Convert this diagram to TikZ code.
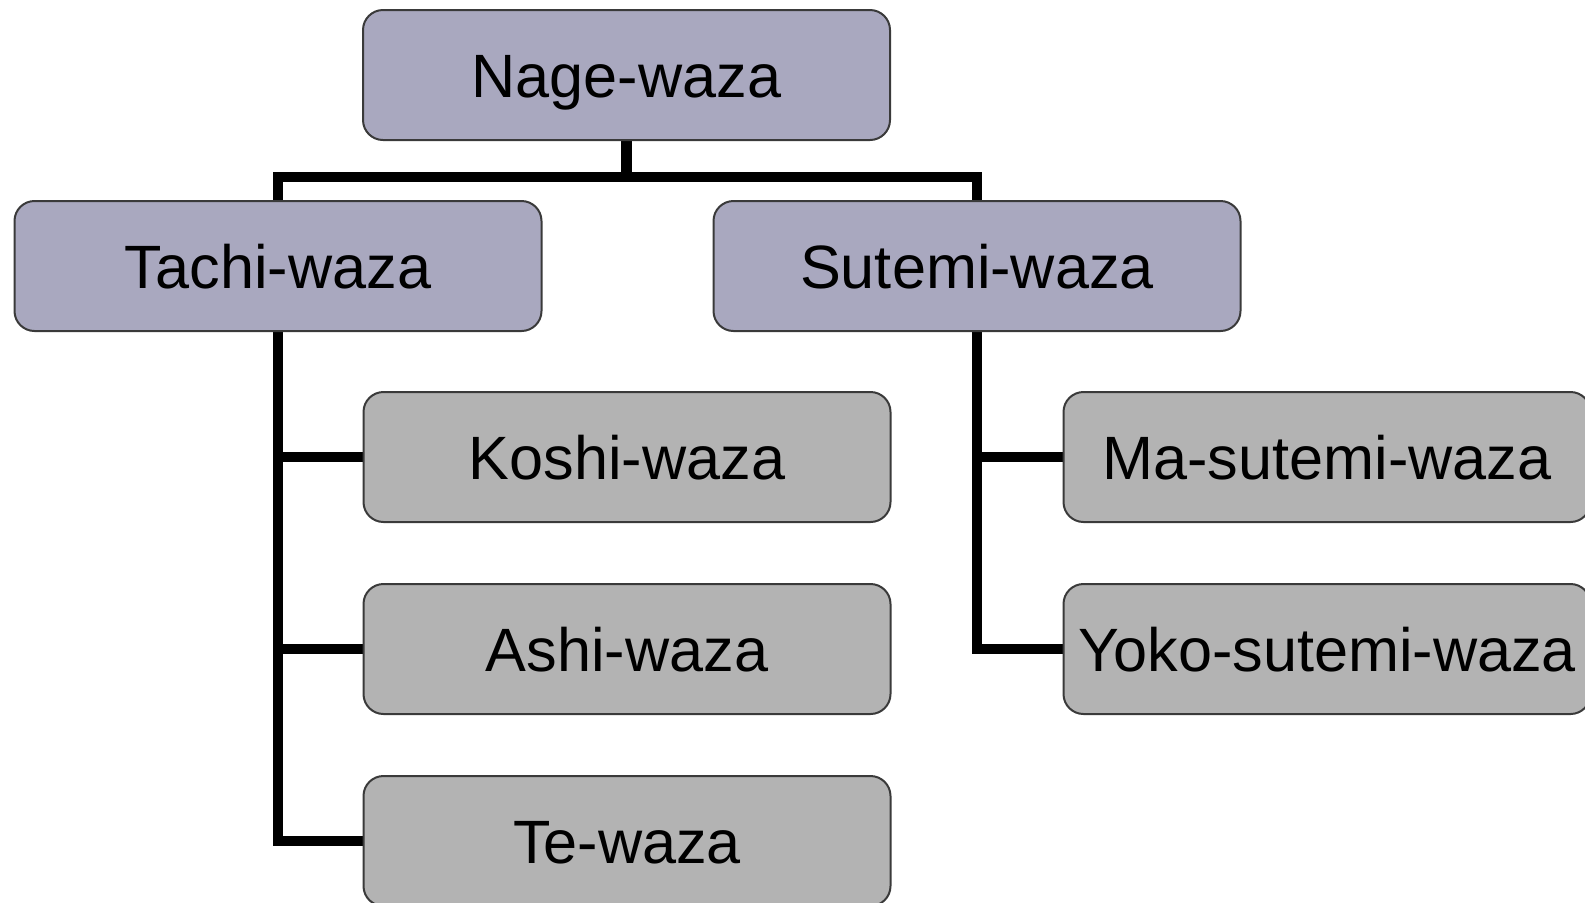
\documentclass[tikz,border=0pt]{standalone}
\usepackage{fontspec}
\setmainfont{Liberation Sans}
\usetikzlibrary{backgrounds}
\definecolor{topfill}{HTML}{A9A8BF}
\definecolor{subfill}{HTML}{B3B3B3}
\definecolor{edge}{HTML}{3A3A3A}
\begin{document}
\begin{tikzpicture}[x=0.5pt,y=-0.5pt,
  box/.style={draw=edge,line width=1pt,rounded corners=10pt,minimum width=263.5pt,minimum height=65pt,inner sep=0pt,outer sep=0pt,text height=22pt,text depth=0pt,font=\fontsize{30.6}{36}\selectfont},
  topbox/.style={box,fill=topfill},
  subbox/.style={box,fill=subfill},
  conn/.style={draw=black,line width=5.3pt,line join=miter}]
\useasboundingbox (0,0) rectangle (1585,902);
\node[topbox] (nage) at (626.5,75) {Nage-waza};
\node[topbox] (tachi) at (278,266) {Tachi-waza};
\node[topbox] (sutemi) at (977,266) {Sutemi-waza};
\node[subbox] (koshi) at (627,457) {Koshi-waza};
\node[subbox] (ashi) at (627,649) {Ashi-waza};
\node[subbox] (te) at (627,841) {Te-waza};
\node[subbox] (ma) at (1327,457) {Ma-sutemi-waza};
\node[subbox] (yoko) at (1327,649) {Yoko-sutemi-waza};
\coordinate (bar) at (626.5,177);
\begin{pgfonlayer}{background}
\draw[conn] (nage.south) -- (bar);
\draw[conn] (tachi.north) |- (bar) -| (sutemi.north);
\draw[conn] (tachi.south) |- (te.west);
\draw[conn] (tachi.south |- koshi.west) -- (koshi.west);
\draw[conn] (tachi.south |- ashi.west) -- (ashi.west);
\draw[conn] (sutemi.south) |- (yoko.west);
\draw[conn] (sutemi.south |- ma.west) -- (ma.west);
\end{pgfonlayer}
\end{tikzpicture}
\end{document}
